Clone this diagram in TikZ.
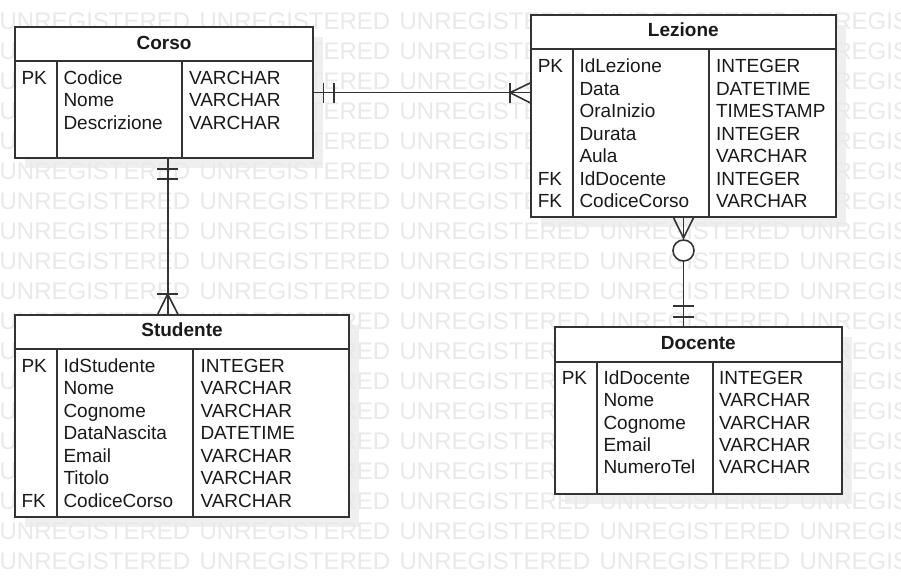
\documentclass[tikz,border=0pt]{standalone}
\usepackage{fontspec}
\setmainfont{Liberation Sans}
\definecolor{linec}{HTML}{333333}
\definecolor{txtc}{HTML}{1A1A1A}
\definecolor{wmc}{HTML}{E9E9E9}
\definecolor{shadowc}{HTML}{EFEFEF}
\begin{document}
\begin{tikzpicture}[x=1pt,y=-1pt,
  every node/.style={inner sep=0pt, outer sep=0pt},
  ent/.style={draw=linec, line width=1.8pt, fill=white, anchor=north west},
  shd/.style={fill=shadowc},
  sep/.style={draw=linec, line width=1.8pt},
  wm/.style={anchor=base west, text=wmc, font=\fontsize{24}{24}\selectfont},
  cell/.style={anchor=base west, text=txtc, font=\fontsize{19}{22}\selectfont},
  ttl/.style={anchor=base, text=txtc, font=\bfseries\fontsize{19}{22}\selectfont},
  rel/.style={draw=linec, line width=1.6pt},
]
\useasboundingbox (0,0) rectangle (901,577);
\fill[white] (0,0) rectangle (901,577);

% shadows
\fill[shd] (24.7,36.7) rectangle (323.3,168.3);
\fill[shd] (540.7,24.7) rectangle (846,226.7);
\fill[shd] (24.7,325) rectangle (359.3,527.3);
\fill[shd] (565,336.7) rectangle (851.7,504.3);

% watermark
\foreach \r in {0,...,18} {
  \foreach \c in {0,...,4} {
    \node[wm] (wm-\r-\c) at (-0.4+200*\c, 29.6+30*\r) {UNREGISTERED};
  }
}

% ---------------- Corso
\node[ent, minimum width=298.6pt, minimum height=131.6pt] (corso) at (14.7,26.7) {};
\draw[sep] (corso.west |- 0,61) -- (corso.east |- 0,61);
\draw[sep] (57,61) -- (corso.south -| 57,0);
\draw[sep] (181.7,61) -- (corso.south -| 181.7,0);
\node[ttl] (corso-h) at (164,50) {Corso};
\foreach \k/\n/\t [count=\i] in {PK/Codice/VARCHAR,/Nome/VARCHAR,/Descrizione/VARCHAR} {
  \node[cell] (corso-k\i) at (21.5, 84.3+22.5*\i-22.5) {\k};
  \node[cell] (corso-n\i) at (63.5, 84.3+22.5*\i-22.5) {\n};
  \node[cell] (corso-t\i) at (189, 84.3+22.5*\i-22.5) {\t};
}

% ---------------- Lezione
\node[ent, minimum width=305.3pt, minimum height=202pt] (lezione) at (530.7,14.7) {};
\draw[sep] (lezione.west |- 0,49.3) -- (lezione.east |- 0,49.3);
\draw[sep] (572.7,49.3) -- (lezione.south -| 572.7,0);
\draw[sep] (709.3,49.3) -- (lezione.south -| 709.3,0);
\node[ttl] (lezione-h) at (683.3,36.7) {Lezione};
\foreach \k/\n/\t [count=\i] in {PK/IdLezione/INTEGER,/Data/DATETIME,/OraInizio/TIMESTAMP,/Durata/INTEGER,/Aula/VARCHAR,FK/IdDocente/INTEGER,FK/CodiceCorso/VARCHAR} {
  \node[cell] (lezione-k\i) at (537.8, 72.8+22.45*\i-22.45) {\k};
  \node[cell] (lezione-n\i) at (579.5, 72.8+22.45*\i-22.45) {\n};
  \node[cell] (lezione-t\i) at (716, 72.8+22.45*\i-22.45) {\t};
}

% ---------------- Studente
\node[ent, minimum width=334.6pt, minimum height=202.3pt] (studente) at (14.7,315) {};
\draw[sep] (studente.west |- 0,349.3) -- (studente.east |- 0,349.3);
\draw[sep] (57,349.3) -- (studente.south -| 57,0);
\draw[sep] (193.3,349.3) -- (studente.south -| 193.3,0);
\node[ttl] (studente-h) at (182,336.7) {Studente};
\foreach \k/\n/\t [count=\i] in {PK/IdStudente/INTEGER,/Nome/VARCHAR,/Cognome/VARCHAR,/DataNascita/DATETIME,/Email/VARCHAR,/Titolo/VARCHAR,FK/CodiceCorso/VARCHAR} {
  \node[cell] (studente-k\i) at (21.5, 372.5+22.47*\i-22.47) {\k};
  \node[cell] (studente-n\i) at (63.5, 372.5+22.47*\i-22.47) {\n};
  \node[cell] (studente-t\i) at (200.5, 372.5+22.47*\i-22.47) {\t};
}

% ---------------- Docente
\node[ent, minimum width=286.7pt, minimum height=167.6pt] (docente) at (555,326.7) {};
\draw[sep] (docente.west |- 0,361.7) -- (docente.east |- 0,361.7);
\draw[sep] (597.3,361.7) -- (docente.south -| 597.3,0);
\draw[sep] (712.7,361.7) -- (docente.south -| 712.7,0);
\node[ttl] (docente-h) at (698.3,349.3) {Docente};
\foreach \k/\n/\t [count=\i] in {PK/IdDocente/INTEGER,/Nome/VARCHAR,/Cognome/VARCHAR,/Email/VARCHAR,/NumeroTel/VARCHAR} {
  \node[cell] (docente-k\i) at (561.8, 384.3+22.4*\i-22.4) {\k};
  \node[cell] (docente-n\i) at (603.5, 384.3+22.4*\i-22.4) {\n};
  \node[cell] (docente-t\i) at (719, 384.3+22.4*\i-22.4) {\t};
}

% ---------------- Corso -- Lezione (one to many)
\draw[rel] (corso.east |- 0,92.7) -- (lezione.west |- 0,92.7);
\draw[rel] (323.3,82.7) -- (323.3,103.3);
\draw[rel] (333.7,82.7) -- (333.7,103.3);
\draw[rel] (510,82.7) -- (510,103.3);
\draw[rel] (lezione.west |- 0,82.7) -- (510,92.7) -- (lezione.west |- 0,103);

% ---------------- Corso -- Studente (one to many)
\draw[rel] (corso.south -| 167.7,0) -- (studente.north -| 167.7,0);
\draw[rel] (157.3,169) -- (178.3,169);
\draw[rel] (157.3,179.3) -- (178.3,179.3);
\draw[rel] (157.3,294) -- (178.3,294);
\draw[rel] (studente.north -| 157.3,0) -- (167.7,294) -- (studente.north -| 178.3,0);

% ---------------- Lezione -- Docente (zero-or-many to one)
\draw[rel] (lezione.south -| 683.5,0) -- (docente.north -| 683.5,0);
\draw[rel] (lezione.south -| 673,0) -- (683.5,238) -- (lezione.south -| 694,0);
\draw[rel, fill=white] (683.5,250.5) circle[radius=10.5];
\draw[rel] (673,306) -- (694,306);
\draw[rel] (673,316.7) -- (694,316.7);
\end{tikzpicture}
\end{document}
